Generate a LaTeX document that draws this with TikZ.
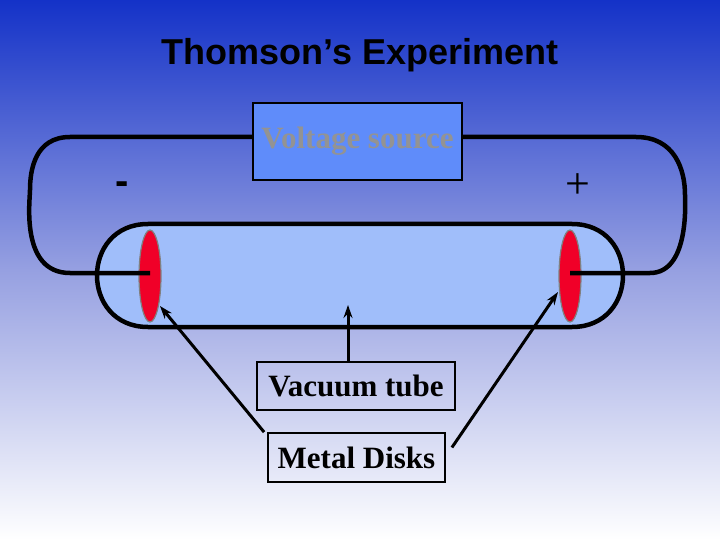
\documentclass[tikz,border=0pt]{standalone}
\usepackage{fontspec}
\usetikzlibrary{shapes.geometric,arrows.meta}
\setmainfont{Liberation Serif}
\newfontfamily\hel{Liberation Sans}
\definecolor{bgtop}{RGB}{20,50,200}
\definecolor{bgmid}{RGB}{150,160,225}
\definecolor{tubeblue}{RGB}{160,190,250}
\definecolor{srcblue}{RGB}{95,140,250}
\definecolor{diskred}{RGB}{240,0,40}
\begin{document}
\begin{tikzpicture}[x=1pt,y=-1pt,
  wire/.style={line width=4.5pt},
  lbl/.style={draw=black,line width=1.8pt,font=\bfseries\fontsize{31}{33}\selectfont,inner sep=0pt},
  arr/.style={line width=3pt,-{Stealth[length=13pt,width=9pt]}},
  disk/.style={ellipse,draw=gray,line width=1.2pt,fill=diskred,minimum width=22pt,minimum height=92pt,inner sep=0pt}]
\useasboundingbox (0,0) rectangle (720,540);
\shade[top color=bgtop,bottom color=white,middle color=bgmid] (0,0) rectangle (720,540);
\node (title) at (360,55) {\hel\bfseries\fontsize{36}{38}\selectfont Thomson’s Experiment};
% tube
\draw[line width=4.5pt,fill=tubeblue] (148,224) -- (572,224) .. controls (640,224) and (640,327) .. (572,327) -- (148,327) .. controls (80,327) and (80,224) .. (148,224) -- cycle;
\node[disk] (dl) at (150,276) {};
\node[disk] (dr) at (570,276) {};
% wires
\coordinate (tl) at (70,137);
\coordinate (tr) at (636,137);
\draw[wire] (dl.center |- 0,273) -- (70,273) .. controls (20,273) and (30,200) .. (30,190) .. controls (30,170) and (35,137) .. (tl) -- (253,137);
\draw[wire] (dr.center |- 0,273) -- (650,273) .. controls (690,273) and (685,200) .. (685,195) .. controls (685,170) and (675,137) .. (tr) -- (462,137);
\node[draw=black,line width=1.8pt,fill=srcblue,minimum width=209pt,minimum height=77pt,inner sep=0pt,text=gray!85,font=\bfseries\fontsize{31}{33}\selectfont] (src) at (357.5,141.5) {Voltage source};
\node[font=\hel\bfseries\fontsize{40}{42}\selectfont] (minus) at (122,188) {-};
\node[font=\fontsize{44}{46}\selectfont] (plus) at (578,186) {+};
\node[lbl,minimum width=198pt,minimum height=48pt] (vac) at (356,386) {Vacuum tube};
\node[lbl,minimum width=177pt,minimum height=49pt] (md) at (356.5,457.5) {Metal Disks};
\coordinate (vt) at (348,305);
\coordinate (dlt) at (160,306);
\coordinate (drt) at (558,292);
\draw[arr] (vac.north -| vt) -- (vt);
\draw[arr] ([xshift=-3pt]md.north west) -- (dlt);
\draw[arr] ([xshift=6pt,yshift=10pt]md.east) -- (drt);
\end{tikzpicture}
\end{document}
